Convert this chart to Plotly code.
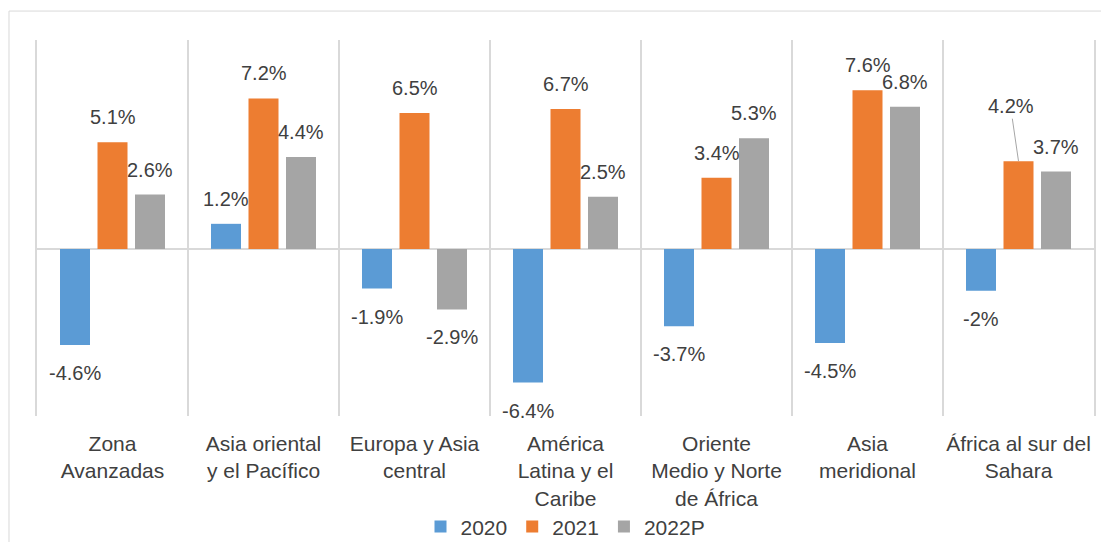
import plotly.graph_objects as go

categories = [
    "Zona<br>Avanzadas",
    "Asia oriental<br>y el Pacífico",
    "Europa y Asia<br>central",
    "América<br>Latina y el<br>Caribe",
    "Oriente<br>Medio y Norte<br>de África",
    "Asia<br>meridional",
    "África al sur del<br>Sahara",
]
series_names = ["2020", "2021", "2022P"]
v2020 = [-4.6, 1.2, -1.9, -6.4, -3.7, -4.5, -2.0]
v2021 = [5.1, 7.2, 6.5, 6.7, 3.4, 7.6, 4.2]
v2022 = [2.6, 4.4, -2.9, 2.5, 5.3, 6.8, 3.7]
labels2020 = ["-4.6%", "1.2%", "-1.9%", "-6.4%", "-3.7%", "-4.5%", "-2%"]
labels2021 = ["5.1%", "7.2%", "6.5%", "6.7%", "3.4%", "7.6%", "4.2%"]
labels2022 = ["2.6%", "4.4%", "-2.9%", "2.5%", "5.3%", "6.8%", "3.7%"]
colors = ["#5B9BD5", "#ED7D31", "#A5A5A5"]

FONT = "Liberation Sans"
TXT = "#404040"
GRID = "#D9D9D9"

fig = go.Figure()
all_vals = [v2020, v2021, v2022]
all_labels = [labels2020, labels2021, labels2022]
for name, vals, col in zip(series_names, all_vals, colors):
    fig.add_trace(go.Bar(x=categories, y=vals, name=name, marker_color=col,
                         marker_line_width=0))

pitch = 37.5
annotations = []
for si, (vals, labs) in enumerate(zip(all_vals, all_labels)):
    for ci, (v, lab) in enumerate(zip(vals, labs)):
        xs = (si - 1) * pitch
        if si == 1 and ci == 6:
            annotations.append(dict(x=categories[ci], y=v, xref="x", yref="y",
                                    text=lab, showarrow=True, arrowhead=0,
                                    arrowwidth=1, arrowcolor="#A6A6A6",
                                    ax=-8, ay=-55, standoff=0,
                                    font=dict(family=FONT, size=20, color=TXT)))
            continue
        annotations.append(dict(x=categories[ci], y=v, xref="x", yref="y",
                                text=lab, showarrow=False, xshift=xs,
                                yshift=25 if v >= 0 else -28,
                                font=dict(family=FONT, size=20, color=TXT)))

fig.update_layout(
    width=1101, height=534,
    margin=dict(l=29, r=15, t=32, b=126, autoexpand=False),
    paper_bgcolor="white", plot_bgcolor="white",
    barmode="group", bargap=0.255, bargroupgap=0.2,
    font=dict(family=FONT, size=21, color=TXT),
    annotations=annotations,
    showlegend=True,
    legend=dict(orientation="h", x=0.5, xanchor="center", y=-0.295,
                yanchor="middle", font=dict(family=FONT, size=21, color=TXT),
                itemwidth=30, traceorder="normal"),
    shapes=[dict(type="rect", xref="paper", yref="paper",
                 x0=-0.0265, x1=1.03, y0=-0.4, y1=1.077,
                 line=dict(color=GRID, width=1), layer="below")],
)
fig.update_xaxes(type="category", tickson="boundaries", showgrid=True,
                 gridcolor=GRID, gridwidth=1.5, ticks="", showline=False,
                 ticklabelstandoff=13, automargin=False, tickangle=0,
                 tickfont=dict(family=FONT, size=21, color=TXT))
fig.update_yaxes(range=[-8, 10], showticklabels=False, showgrid=False,
                 zeroline=True, zerolinecolor=GRID, zerolinewidth=1.5,
                 showline=True, mirror=True, linecolor=GRID, linewidth=1.5,
                 ticks="", automargin=False)

fig.write_html("out.html")
